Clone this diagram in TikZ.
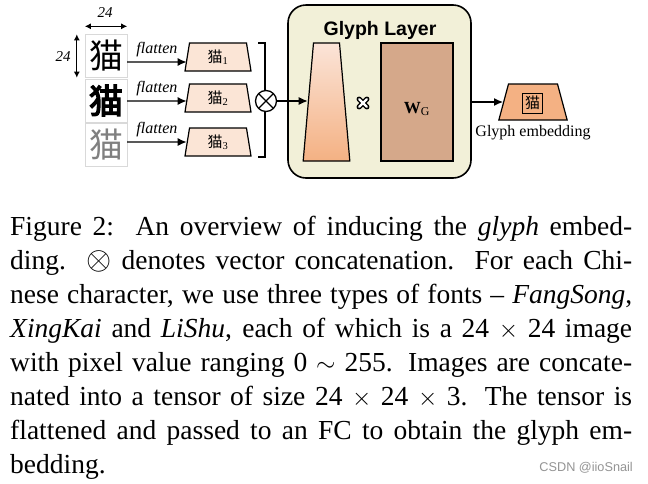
\documentclass[tikz,border=0pt]{standalone}
\usepackage{fontspec}
\setmainfont{Liberation Serif}
\newfontfamily\sansfont{Liberation Sans}
\newfontfamily\cjk{Noto Sans CJK SC}
\newfontfamily\cjkbold[FakeBold=4]{Noto Sans CJK SC}
\usetikzlibrary{arrows.meta,shapes.geometric}
\definecolor{peachlight}{RGB}{251,229,214}
\definecolor{peachfade}{RGB}{251,228,216}
\definecolor{peachdark}{RGB}{244,177,131}
\definecolor{wgbrown}{RGB}{213,168,138}
\definecolor{layercream}{RGB}{242,240,216}

\begin{document}
\begin{tikzpicture}[x=1pt,y=-1pt,
  img/.style={draw=black!15, minimum width=42pt, minimum height=43pt, inner sep=0pt},
  arr/.style={line width=1.3pt, -{Latex[length=9pt,width=8pt]}},
  dim/.style={line width=1.1pt, {Latex[length=6pt,width=6pt]}-{Latex[length=6pt,width=6pt]}},
  trap/.style={trapezium, draw, line width=1.2pt},
  smalltrap/.style={trap, trapezium stretches body, inner sep=0pt, trapezium left angle=73, trapezium right angle=73,
    fill=peachlight, minimum width=66pt, minimum height=28pt, font=\fontsize{15}{15}\selectfont},
  capline/.style={anchor=base west, inner sep=0pt, font=\fontsize{27.5}{34}\selectfont}]
\useasboundingbox (0,0) rectangle (648,483);
\fill[white] (0,0) rectangle (648,483);

% three fonts of the same character
\node[img, font=\cjk\fontsize{34}{34}\selectfont] (img1) at (106,56) {猫};
\node[img, font=\cjkbold\fontsize{34}{34}\selectfont] (img2) at (106,100.5) {猫};
\node[img, text=black!50, font=\cjk\fontsize{34}{34}\selectfont] (img3) at (106,144.5) {猫};

\draw[dim] ([yshift=8pt]img1.north west) -- ([yshift=8pt]img1.north east);
\draw[dim] ([xshift=-8pt]img1.north west) -- ([xshift=-8pt]img1.south west);
\node[font=\itshape\fontsize{15}{15}\selectfont] (wlab) at (105,13) {24};
\node[font=\itshape\fontsize{15}{15}\selectfont] (hlab) at (63,57) {24};

\node[smalltrap] (t1) at (218,57) {{\cjk 猫}\textsubscript{1}};
\node[smalltrap] (t2) at (218,98) {{\cjk 猫}\textsubscript{2}};
\node[smalltrap] (t3) at (218,142) {{\cjk 猫}\textsubscript{3}};

\foreach \i/\sa/\sb in {1/-6/-5, 2/-0.5/-3, 3/2.5/0}
  \draw[arr] ([yshift=\sa pt]img\i.east) -- node[above=1.5pt, font=\itshape\fontsize{16}{16}\selectfont] (fl\i) {flatten} ([yshift=\sb pt]t\i.west);

% concatenation
\draw[line width=1.1pt] (258,43) -- (265,43) -- (265,157) -- (258,157);
\node[circle, draw, fill=white, line width=1.3pt, minimum size=21pt, inner sep=0pt,
  path picture={
    \draw[line width=1.3pt] ([shift={(45:11pt)}]path picture bounding box.center) -- ([shift={(225:11pt)}]path picture bounding box.center);
    \draw[line width=1.3pt] ([shift={(135:11pt)}]path picture bounding box.center) -- ([shift={(315:11pt)}]path picture bounding box.center);
  }] (cat) at (266,101) {};

% glyph layer
\node[draw, line width=1.6pt, rounded corners=18pt, fill=layercream, minimum width=183pt, minimum height=173pt] (layer) at (379.5,91.5) {};
\node[font=\sansfont\bfseries\fontsize{19.5}{20}\selectfont] (title) at (380,30) {Glyph Layer};
\node[trap, trapezium left angle=85, trapezium right angle=85, inner xsep=13pt, inner ysep=59pt,
  top color=peachfade, middle color=peachdark, bottom color=peachdark] (fc) at (326.5,102) {};
\node[draw, line width=1.3pt, fill=wgbrown, minimum width=72pt, minimum height=118pt] (wg) at (417,102) {};
\node[font=\fontsize{17}{17}\selectfont] (wglab) at ([yshift=-7pt]wg.center) {\textbf{W}\textsubscript{G}};
\coordinate (mul) at (363,103);
\foreach \a in {45,135} \draw[line width=5.2pt, line cap=round] ([shift={(\a:5.5pt)}]mul) -- ([shift={(\a+180:5.5pt)}]mul);
\foreach \a in {45,135} \draw[white, line width=2.4pt, line cap=round] ([shift={(\a:5.5pt)}]mul) -- ([shift={(\a+180:5.5pt)}]mul);

\draw[arr] (cat.east) -- (fc.west |- cat.east);

% output
\node[trap, trapezium left angle=75, trapezium right angle=75, inner xsep=24.5pt, inner ysep=18pt, fill=peachdark] (emb) at (533,102) {};
\node[draw, line width=0.9pt, minimum size=20pt, inner sep=0pt, font=\cjk\fontsize{15}{15}\selectfont] (embchar) at (532.5,103) {猫};
\node[anchor=north, inner sep=0pt, font=\fontsize{16}{16}\selectfont] (emblab) at (533,125) {Glyph embedding};
\draw[arr] (layer.east |- emb.west) -- (emb.west);

% caption
\node[capline] (cap1) at (10,235) {\makebox[622pt][s]{Figure 2:\ \ An overview of inducing the \textit{glyph} embed-}};
\node[capline] (cap2) at (10,269) {\makebox[622pt][s]{ding.\ \ \scalebox{1.3}{$\otimes$} denotes vector concatenation.\ \ For each Chi-}};
\node[capline] (cap3) at (10,303) {\makebox[622pt][s]{nese character, we use three types of fonts -- \textit{FangSong},}};
\node[capline] (cap4) at (10,337) {\makebox[622pt][s]{\textit{XingKai} and \textit{LiShu}, each of which is a 24 $\times$ 24 image}};
\node[capline] (cap5) at (10,371) {\makebox[622pt][s]{with pixel value ranging 0 $\sim$ 255. Images are concate-}};
\node[capline] (cap6) at (10,405) {\makebox[622pt][s]{nated into a tensor of size 24 $\times$ 24 $\times$ 3. The tensor is}};
\node[capline] (cap7) at (10,439) {\makebox[622pt][s]{flattened and passed to an FC to obtain the glyph em-}};
\node[capline] (cap8) at (10,473) {bedding.};
\node[anchor=east, inner sep=0pt, text=black!42, font=\sansfont\fontsize{12.7}{13}\selectfont] (mark) at (633,468) {CSDN @iioSnail};
\end{tikzpicture}
\end{document}
